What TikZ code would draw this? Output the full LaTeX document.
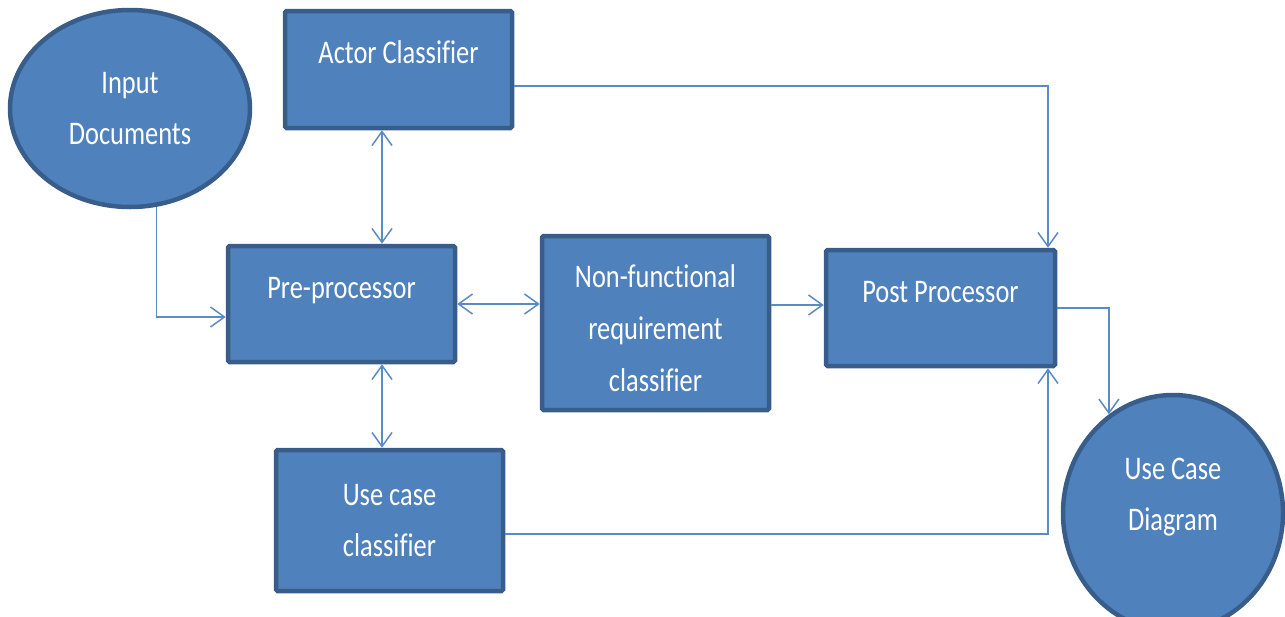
\documentclass[tikz,border=0pt]{standalone}
\usepackage{fontspec}
\setmainfont{Carlito}[FakeStretch=0.80,Ligatures=NoCommon]
\usetikzlibrary{arrows.meta,shapes.geometric}
\definecolor{boxfill}{HTML}{4F81BD}
\definecolor{boxline}{HTML}{385D8A}
\definecolor{connc}{HTML}{5B8BC6}
\begin{document}
\begin{tikzpicture}[x=1pt,y=-1pt,
  base/.style={draw=boxline,fill=boxfill,line width=4.5pt,text=white,
    font=\fontsize{33}{51}\selectfont,inner sep=0pt},
  box/.style={base,rectangle,rounded corners=1.5pt,align=center},
  topbox/.style={base,rectangle,rounded corners=1.5pt,text height=24pt,text depth=36pt},
  ell/.style={base,ellipse,align=center},
  lab/.style={text=white,font=\fontsize{33}{51}\selectfont,align=center},
  barb/.tip={Straight Barb[length=14pt,width=20pt,line width=1.5pt]},
  conn/.style={draw=connc,line width=1.5pt,-barb},
  both/.style={draw=connc,line width=1.5pt,barb-barb}]
\useasboundingbox (0,0) rectangle (1285,616);

\node[ell,minimum width=240pt,minimum height=197pt] (input) at (130,108.5) {Input\\Documents};
\node[topbox,minimum width=227pt,minimum height=117pt] (actor) at (398.5,69.5) {Actor Classifier};
\node[topbox,minimum width=227pt,minimum height=116pt] (pre) at (341.5,304) {Pre-processor};
\node[box,minimum width=227pt,minimum height=174pt,
  label={[lab,font=\fontsize{33}{52}\selectfont,yshift=-5pt]center:Non-functional\\requirement\\classifier}] (nfr) at (655.5,323) {};
\node[topbox,minimum width=229pt,minimum height=116pt] (post) at (940.5,308) {Post Processor};
\node[box,minimum width=227pt,minimum height=141pt] (uc) at (389.5,520.5) {Use case\\classifier};
\node[ell,minimum width=220pt,minimum height=236pt,
  label={[lab,yshift=16pt]center:Use Case\\Diagram}] (ucd) at (1173,513) {};

\draw[conn] (input.-75.4) |- ([yshift=-13pt]pre.west);
\draw[both] ([xshift=-16.5pt]actor.south) -- ([xshift=40.5pt]pre.north);
\draw[both] ([xshift=40.5pt]pre.south) -- ([xshift=-7.5pt]uc.north);
\draw[both] (pre.east) -- (pre.east -| nfr.west);
\draw[conn] ([yshift=18pt]nfr.east) -- ([yshift=3pt]post.west);
\draw[conn] ([yshift=-16.5pt]actor.east) -| ([xshift=107.5pt]post.north);
\draw[conn] ([yshift=-13.5pt]uc.east) -| ([xshift=107.5pt]post.south);
\draw[conn] (post.east) -| (ucd.123);
\end{tikzpicture}
\end{document}
